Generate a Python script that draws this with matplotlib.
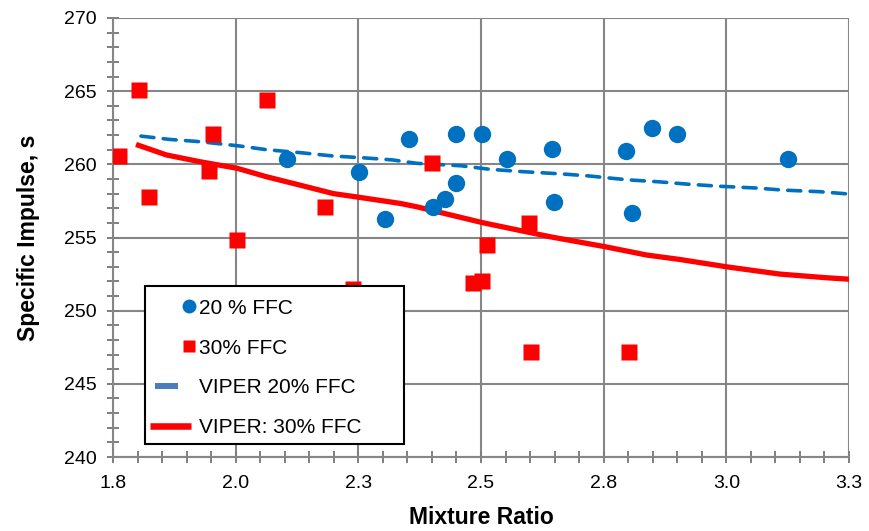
import numpy as np
import matplotlib
matplotlib.use("Agg")
import matplotlib.pyplot as plt
from matplotlib.lines import Line2D
from matplotlib.patches import Rectangle
from matplotlib.legend_handler import HandlerLine2D
from matplotlib.ticker import MultipleLocator

plt.rcParams['font.family'] = ['Liberation Sans', 'DejaVu Sans']

# test data, 20% fuel film cooling
mr_20 = [2.105, 2.251, 2.304, 2.353, 2.403, 2.427, 2.450, 2.450, 2.503,
         2.552, 2.645, 2.649, 2.795, 2.808, 2.849, 2.899, 3.125]
isp_20 = [260.35, 259.5, 256.25, 261.7, 257.1, 257.6, 258.7, 262.1, 262.1,
          260.35, 261.05, 257.4, 260.9, 256.65, 262.5, 262.1, 260.35]

# test data, 30% fuel film cooling
mr_30 = [1.763, 1.804, 1.824, 1.946, 1.954, 2.003, 2.063, 2.182, 2.239,
         2.401, 2.483, 2.503, 2.512, 2.597, 2.601, 2.801]
isp_30 = [260.6, 265.1, 257.8, 259.55, 262.1, 254.8, 264.4, 257.1, 251.5,
          260.1, 251.9, 252.05, 254.5, 256.0, 247.15, 247.15]

# VIPER predictions
viper_mr_20 = [1.807, 1.866, 1.927, 2.009, 2.063, 2.131, 2.198, 2.267, 2.320,
               2.369, 2.460, 2.518, 2.585, 2.667, 2.722, 2.769, 2.804, 2.865,
               2.919, 2.987, 3.061, 3.115, 3.191, 3.250]
viper_isp_20 = [261.93, 261.7, 261.55, 261.25, 261.0, 260.8, 260.57, 260.43,
                260.3, 260.07, 259.9, 259.66, 259.5, 259.34, 259.2, 259.04,
                258.93, 258.8, 258.65, 258.5, 258.38, 258.24, 258.13, 257.97]

viper_mr_30 = [1.802, 1.859, 1.927, 2.003, 2.063, 2.131, 2.199, 2.251, 2.335,
               2.369, 2.505, 2.641, 2.753, 2.838, 2.905, 3.000, 3.109, 3.204,
               3.250]
viper_isp_30 = [261.3, 260.64, 260.18, 259.73, 259.15, 258.58, 258.0, 257.75,
                257.33, 257.1, 256.0, 255.05, 254.37, 253.8, 253.5, 253.0,
                252.5, 252.25, 252.15]

x_ticks = [1.75, 2.0, 2.25, 2.5, 2.75, 3.0, 3.25]
x_ticklabels = ['1.8', '2.0', '2.3', '2.5', '2.8', '3.0', '3.3']
labels = ['20 % FFC', '30% FFC', 'VIPER 20% FFC', 'VIPER: 30% FFC']

blue = '#0070C0'
red = '#FF0000'
grid_gray = '#868686'


class LegendHandle(HandlerLine2D):
    """Line handle drawn over only part of the handle box (marker sits at its middle)."""

    def __init__(self, span=(0.0, 1.0), **kw):
        super().__init__(**kw)
        self.span = span

    def get_xdata(self, legend, xdescent, ydescent, width, height, fontsize):
        x0 = -xdescent
        xdata = np.array([x0 + self.span[0] * width, x0 + self.span[1] * width])
        return xdata, np.array([xdata.mean()])


fig = plt.figure(figsize=(8.7, 5.31), dpi=100)
ax = fig.add_axes([113 / 870, 1 - 457 / 531, 736 / 870, 439 / 531])

ax.plot(viper_mr_20, viper_isp_20, color=blue, lw=2.6, dashes=(3.6, 2.6),
        dash_capstyle='round', zorder=3)
ax.plot(viper_mr_30, viper_isp_30, color=red, lw=3.8, zorder=3)
ax.plot(mr_20, isp_20, 'o', color=blue, ms=12.5, mec='none', zorder=4)
ax.plot(mr_30, isp_30, 's', color=red, ms=12, mec='none', zorder=4)

ax.set_xlim(1.75, 3.25)
ax.set_ylim(240, 270)
ax.set_xticks(x_ticks)
ax.set_xticklabels(x_ticklabels)
ax.xaxis.set_minor_locator(MultipleLocator(0.05))
ax.yaxis.set_major_locator(MultipleLocator(5))
ax.yaxis.set_minor_locator(MultipleLocator(1))

ax.grid(True, which='major', color=grid_gray, lw=1.5, zorder=0)
ax.set_axisbelow(True)
for side in ['left', 'bottom']:
    ax.spines[side].set_color(grid_gray)
    ax.spines[side].set_linewidth(1.5)
for side in ['right', 'top']:
    ax.spines[side].set_visible(False)

ax.tick_params(axis='both', which='both', direction='inout', length=8,
               width=1.4, color='#7f7f7f', labelsize=14)
ax.tick_params(axis='y', which='major', pad=8)
ax.tick_params(axis='x', which='major', pad=9)

ax.set_xlabel('Mixture Ratio', fontsize=16.5, fontweight='bold', labelpad=10)
ax.set_ylabel('Specific Impulse, s', fontsize=16.5, fontweight='bold', labelpad=17)

# legend box
fig.patches.append(Rectangle((145 / 870, 1 - 444 / 531), 259 / 870, 158 / 531,
                             transform=fig.transFigure, fill=True, fc='white',
                             ec='black', lw=1.5, zorder=5))

h_20 = Line2D([], [], ls='none', marker='o', color=blue, ms=10, mec='none')
h_30 = Line2D([], [], ls='none', marker='s', color=red, ms=8, mec='none')
h_v20 = Line2D([], [], color='#4A7EBB', lw=4.3, solid_capstyle='butt')
h_v30 = Line2D([], [], color=red, lw=4.7, solid_capstyle='butt')
leg = fig.legend([h_20, h_30, h_v20, h_v30], labels, loc='center left',
                 bbox_to_anchor=(150 / 870, 1 - 368 / 531), frameon=False,
                 borderpad=0, borderaxespad=0, handlelength=1.95,
                 handletextpad=0.38, labelspacing=1.0, fontsize=15,
                 handler_map={h_20: LegendHandle(span=(0.9, 1.0)),
                              h_30: LegendHandle(span=(0.9, 1.0)),
                              h_v20: LegendHandle(span=(0.12, 0.7))})
leg.set_zorder(6)

fig.savefig('out.png', dpi=100)
